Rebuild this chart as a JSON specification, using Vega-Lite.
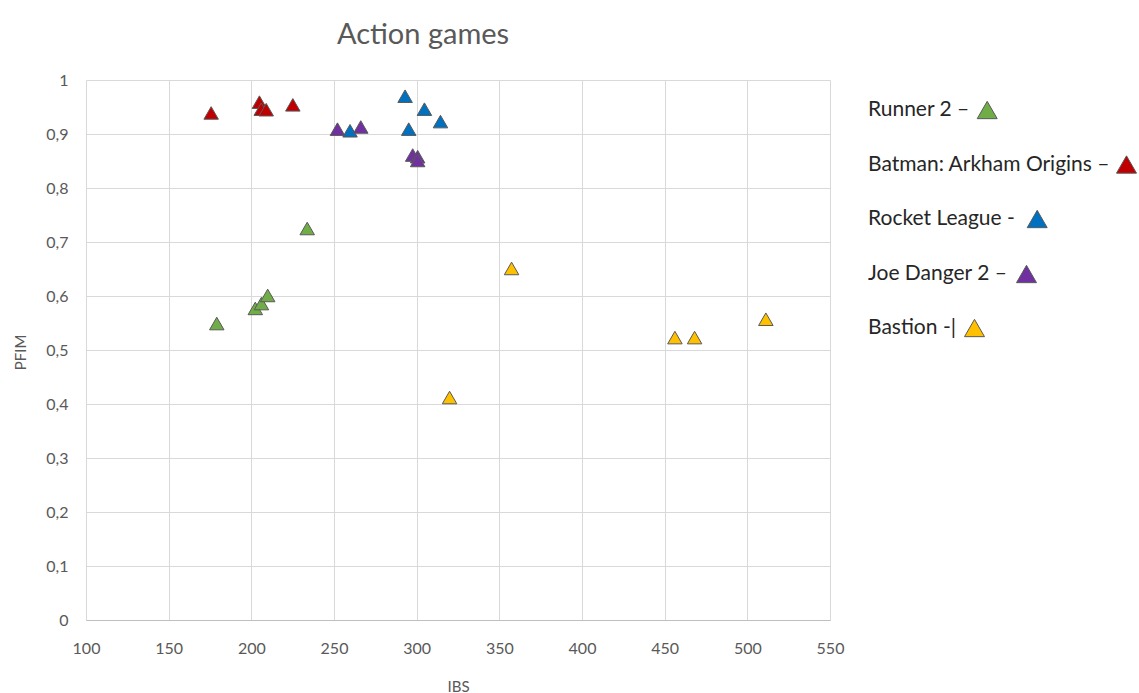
{
  "$schema": "https://vega.github.io/schema/vega-lite/v6.json",
  "autosize": "none",
  "padding": {"left": 86, "top": 80, "right": 309, "bottom": 73},
  "width": 744,
  "height": 540,
  "background": "white",
  "title": {
    "text": "Action games",
    "font": "Lato",
    "fontSize": 29,
    "fontWeight": "normal",
    "color": "#595959",
    "anchor": "middle",
    "dx": -35,
    "baseline": "middle",
    "offset": 8
  },
  "config": {
    "view": {"stroke": null},
    "axis": {
      "labelFont": "Lato",
      "labelFontSize": 16,
      "labelColor": "#595959",
      "labelFlush": false,
      "titleFont": "Lato",
      "titleFontSize": 15,
      "titleFontWeight": "normal",
      "titleColor": "#595959",
      "gridColor": "#d9d9d9",
      "gridWidth": 1,
      "ticks": false,
      "tickSize": 0
    },
    "legend": {
      "orient": "none",
      "padding": 0,
      "title": null,
      "labelFont": "Lato",
      "labelFontSize": 21,
      "labelColor": "#262626",
      "symbolType": "triangle-up",
      "symbolSize": 400,
      "symbolStrokeColor": "#595959",
      "symbolStrokeWidth": 1,
      "symbolOpacity": 1,
      "labelAlign": "left",
      "labelBaseline": "middle",
      "labelLimit": 400
    }
  },
  "data": {
    "values": [
      {"game": "Runner 2", "IBS": 179.1, "PFIM": 0.549},
      {"game": "Runner 2", "IBS": 202.4, "PFIM": 0.577},
      {"game": "Runner 2", "IBS": 206.1, "PFIM": 0.586},
      {"game": "Runner 2", "IBS": 209.9, "PFIM": 0.601},
      {"game": "Runner 2", "IBS": 233.8, "PFIM": 0.725},
      {"game": "Batman: Arkham Origins", "IBS": 175.7, "PFIM": 0.939},
      {"game": "Batman: Arkham Origins", "IBS": 204.9, "PFIM": 0.959},
      {"game": "Batman: Arkham Origins", "IBS": 206.0, "PFIM": 0.946},
      {"game": "Batman: Arkham Origins", "IBS": 209.0, "PFIM": 0.945},
      {"game": "Batman: Arkham Origins", "IBS": 225.1, "PFIM": 0.954},
      {"game": "Rocket League", "IBS": 259.7, "PFIM": 0.906},
      {"game": "Rocket League", "IBS": 293.0, "PFIM": 0.970},
      {"game": "Rocket League", "IBS": 295.2, "PFIM": 0.909},
      {"game": "Rocket League", "IBS": 304.7, "PFIM": 0.946},
      {"game": "Rocket League", "IBS": 314.4, "PFIM": 0.923},
      {"game": "Joe Danger 2", "IBS": 252.1, "PFIM": 0.909},
      {"game": "Joe Danger 2", "IBS": 266.2, "PFIM": 0.913},
      {"game": "Joe Danger 2", "IBS": 297.6, "PFIM": 0.861},
      {"game": "Joe Danger 2", "IBS": 300.6, "PFIM": 0.858},
      {"game": "Joe Danger 2", "IBS": 300.6, "PFIM": 0.851},
      {"game": "Bastion", "IBS": 319.9, "PFIM": 0.412},
      {"game": "Bastion", "IBS": 357.4, "PFIM": 0.651},
      {"game": "Bastion", "IBS": 456.2, "PFIM": 0.523},
      {"game": "Bastion", "IBS": 468.1, "PFIM": 0.523},
      {"game": "Bastion", "IBS": 511.2, "PFIM": 0.557}
    ]
  },
  "encoding": {
    "x": {
      "field": "IBS",
      "type": "quantitative",
      "scale": {"domain": [100, 550], "nice": false, "zero": false},
      "axis": {
        "title": "IBS",
        "values": [100, 150, 200, 250, 300, 350, 400, 450, 500, 550],
        "labelPadding": 20,
        "domain": true,
        "domainColor": "#bfbfbf",
        "domainWidth": 1,
        "titleX": 372,
        "titleY": 66,
        "titleBaseline": "middle",
        "titleAlign": "center"
      }
    },
    "y": {
      "field": "PFIM",
      "type": "quantitative",
      "scale": {"domain": [0, 1], "nice": false, "zero": true},
      "axis": {
        "title": "PFIM",
        "values": [0, 0.1, 0.2, 0.3, 0.4, 0.5, 0.6, 0.7, 0.8, 0.9, 1],
        "format": ".1~f",
        "labelExpr": "replace(datum.label, '.', ',')",
        "labelPadding": 18,
        "domain": false,
        "titleX": -66,
        "titleY": 272,
        "titleBaseline": "middle",
        "titleAlign": "center",
        "titleAngle": -90
      }
    }
  },
  "layer": [
    {
      "transform": [{"filter": "datum.game === 'Runner 2'"}],
      "mark": {"type": "point", "shape": "triangle-up", "filled": true, "size": 210, "stroke": "#595959", "strokeWidth": 1, "opacity": 1},
      "encoding": {
        "color": {
          "field": "game", "type": "nominal",
          "scale": {"domain": ["Runner 2"], "range": ["#70ad47"]},
          "legend": {"legendX": 890.7, "legendY": 19.5, "labelOffset": -129.7, "labelExpr": "datum.label + ' –'"}
        }
      }
    },
    {
      "transform": [{"filter": "datum.game === 'Batman: Arkham Origins'"}],
      "mark": {"type": "point", "shape": "triangle-up", "filled": true, "size": 210, "stroke": "#595959", "strokeWidth": 1, "opacity": 1},
      "encoding": {
        "color": {
          "field": "game", "type": "nominal",
          "scale": {"domain": ["Batman: Arkham Origins"], "range": ["#c00000"]},
          "legend": {"legendX": 1030, "legendY": 74, "labelOffset": -269, "labelExpr": "datum.label + ' –'"}
        }
      }
    },
    {
      "transform": [{"filter": "datum.game === 'Rocket League'"}],
      "mark": {"type": "point", "shape": "triangle-up", "filled": true, "size": 210, "stroke": "#595959", "strokeWidth": 1, "opacity": 1},
      "encoding": {
        "color": {
          "field": "game", "type": "nominal",
          "scale": {"domain": ["Rocket League"], "range": ["#0070c0"]},
          "legend": {"legendX": 940.7, "legendY": 128.5, "labelOffset": -179.7, "labelExpr": "datum.label + ' -'"}
        }
      }
    },
    {
      "transform": [{"filter": "datum.game === 'Joe Danger 2'"}],
      "mark": {"type": "point", "shape": "triangle-up", "filled": true, "size": 210, "stroke": "#595959", "strokeWidth": 1, "opacity": 1},
      "encoding": {
        "color": {
          "field": "game", "type": "nominal",
          "scale": {"domain": ["Joe Danger 2"], "range": ["#7030a0"]},
          "legend": {"legendX": 930, "legendY": 183.5, "labelOffset": -169, "labelExpr": "datum.label + ' –'"}
        }
      }
    },
    {
      "transform": [{"filter": "datum.game === 'Bastion'"}],
      "mark": {"type": "point", "shape": "triangle-up", "filled": true, "size": 210, "stroke": "#595959", "strokeWidth": 1, "opacity": 1},
      "encoding": {
        "color": {
          "field": "game", "type": "nominal",
          "scale": {"domain": ["Bastion"], "range": ["#ffc000"]},
          "legend": {"legendX": 878, "legendY": 237.5, "labelOffset": -117, "labelExpr": "datum.label + ' -|'"}
        }
      }
    }
  ],
  "resolve": {"scale": {"color": "independent"}}
}
